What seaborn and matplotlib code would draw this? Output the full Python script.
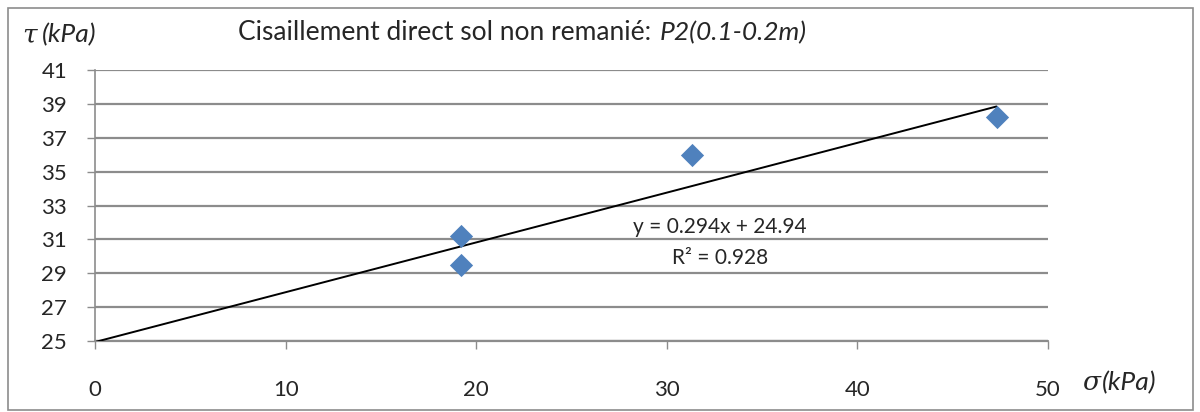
import matplotlib
matplotlib.use("Agg")
import matplotlib.pyplot as plt
import seaborn as sns
import numpy as np
import pandas as pd
from matplotlib.patches import Rectangle

sigma = [19.2, 19.2, 31.3, 47.3]
tau = [31.2, 29.5, 36.0, 38.25]
slope = 0.294
intercept = 24.94
r2 = 0.928
x_ticks = [0, 10, 20, 30, 40, 50]
y_ticks = [25, 27, 29, 31, 33, 35, 37, 39, 41]

sns.set_theme(style="white")
plt.rcParams['font.family'] = ['Lato', 'DejaVu Sans']

fig = plt.figure(figsize=(12, 4.12), dpi=100)
ax = fig.add_axes([95/1200, 1-341/412, (1048-95)/1200, (341-70)/412])

df = pd.DataFrame({"sigma": sigma, "tau": tau})
trend_x = [0, max(sigma)]
trend = pd.DataFrame({"x": trend_x, "y": [slope*v + intercept for v in trend_x]})

for yv in y_ticks:
    ax.axhline(yv, color="#8c8c8c", lw=1.6, zorder=0)
sns.lineplot(data=trend, x="x", y="y", color="black", lw=1.4, ax=ax, zorder=2)
sns.scatterplot(data=df, x="sigma", y="tau", marker="D", s=140, color="#4F81BD",
                edgecolor="#4F81BD", linewidth=0, ax=ax, zorder=3)

ax.set_xlim(0, 50)
ax.set_ylim(25, 41)
ax.set_xticks(x_ticks)
ax.set_yticks(y_ticks)
ax.set_xlabel("")
ax.set_ylabel("")
for s in ["top", "right", "bottom"]:
    ax.spines[s].set_visible(False)
ax.spines["left"].set_color("#8c8c8c")
ax.spines["left"].set_linewidth(1.2)
ax.tick_params(axis="x", direction="out", length=6, width=1, color="#8c8c8c",
               pad=22, labelsize=16, bottom=True)
ax.tick_params(axis="y", direction="out", length=6, width=1, color="#8c8c8c",
               pad=14, labelsize=16, left=True)
ax.axhline(25, color="#8c8c8c", lw=1.6, zorder=0, clip_on=False)

ax.text(32.8, 31.75, f"y = {slope}x + {intercept}", ha="center", va="center", fontsize=15)
ax.text(32.8, 29.9, f"R² = {r2}", ha="center", va="center", fontsize=15)

# title
fig.canvas.draw()
r = fig.canvas.get_renderer()
t1 = fig.text(238/1200, 1-33/412, "Cisaillement direct sol non remanié: ", ha="left", va="center", fontsize=19)
bb = t1.get_window_extent(renderer=r)
fig.text(bb.x1/1200 + 2/1200, 1-33/412, "P2(0.1-0.2m)", ha="left", va="center", fontsize=19, style="italic")

# axis labels
fig.text(22/1200, 1-35/412, "τ", ha="left", va="center", fontsize=19, family=["DejaVu Serif"], style="italic")
fig.text(42/1200, 1-35/412, "(kPa)", ha="left", va="center", fontsize=19, style="italic")
fig.text(1082/1200, 1-383/412, "σ", ha="left", va="center", fontsize=19, family=["DejaVu Serif"], style="italic")
fig.text(1102/1200, 1-383/412, "(kPa)", ha="left", va="center", fontsize=19, style="italic")

fig.patches.append(Rectangle((8/1200, 2/412), 1185/1200, 402/412, transform=fig.transFigure,
                             fill=False, edgecolor="#8c8c8c", lw=1.2))

fig.savefig("out.png", dpi=100)
